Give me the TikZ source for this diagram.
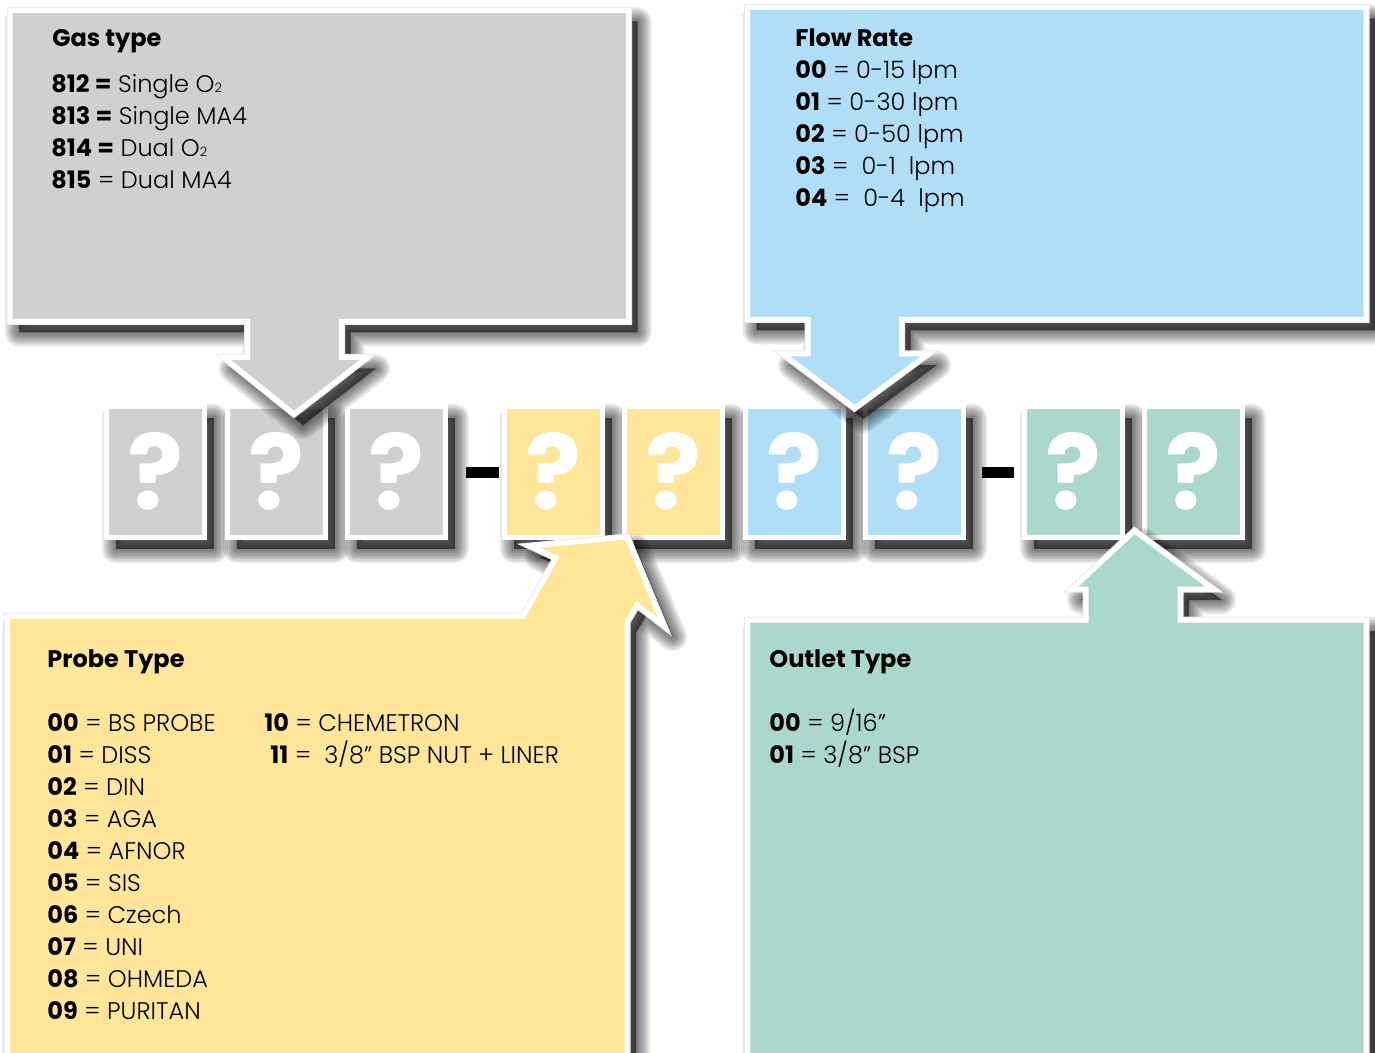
\documentclass[tikz,border=0pt]{standalone}
\usepackage{fontspec}
\IfFontExistsTF{Poppins Light}
  {\setmainfont{Poppins}[UprightFont={* Light}, BoldFont={* Bold}]}
  {\setmainfont{Poppins}}

\definecolor{gasgray}{HTML}{D0D0D0}
\definecolor{probeyellow}{HTML}{FFE699}
\definecolor{flowblue}{HTML}{B0DEF7}
\definecolor{outletgreen}{HTML}{AAD8CD}

\newcommand\subtwo{{\fontsize{6.5pt}{6.5pt}\selectfont 2}}

% soft drop shadow below and right of a path
\newcommand\softshadow[1]{%
  \begin{scope}[shift={(9,11)}]
    \fill[black, opacity=0.55] #1;
    \foreach \w in {2,4,6,8,10,12,14}
      \draw[black, opacity=0.09, line width=\w pt, line join=round] #1;
  \end{scope}}

% callout shape: shadow, faint rim, white border
\newcommand\callout[2]{%
  \softshadow{#2}
  \draw[black!8, line width=3.5pt] #2;
  \filldraw[fill=#1, draw=white, line width=2.5pt] #2;}

\tikzset{
  qbox/.style={draw=white, line width=2.5pt, minimum width=49pt, minimum height=65.5pt,
    inner sep=0pt, text=white, font=\fontsize{52}{52}\selectfont\bfseries},
  title/.style={anchor=base west, inner sep=0pt, font=\fontsize{12}{15}\selectfont\bfseries},
  entry/.style={anchor=base west, inner sep=0pt, font=\fontsize{12}{15}\selectfont}
}

\begin{document}
\begin{tikzpicture}[x=0.5pt, y=-0.5pt]
  \useasboundingbox (0,0) rectangle (1375,1053);
  \fill[white] (0,0) rectangle (1375,1053);
  \clip (0,0) rectangle (1375,1053);

  % code boxes
  \foreach \x/\c in {104/gasgray, 225/gasgray, 345/gasgray, 502/probeyellow, 622/probeyellow,
                     743/flowblue, 863/flowblue, 1022/outletgreen, 1142/outletgreen}
    \softshadow{(\x+2.5,406.5) rectangle ++(98,131)};
  \foreach \x/\c [count=\i] in {104/gasgray, 225/gasgray, 345/gasgray, 502/probeyellow, 622/probeyellow,
                     743/flowblue, 863/flowblue, 1022/outletgreen, 1142/outletgreen}
    \node[qbox, fill=\c] (q\i) at (\x+51.5,472) {\raisebox{1.5pt}{?}};

  \fill (466,467) rectangle (498.5,478);
  \fill (982,467) rectangle (1014,478);

  % callouts
  \callout{gasgray}{(10,10.5) -- (628.5,10.5) -- (628.5,321.5) -- (341.5,321.5) -- (341.5,357.5)
    -- (367,357.5) -- (294,414) -- (224,357.5) -- (247.5,357.5) -- (247.5,321.5) -- (10,321.5) -- cycle}
  \callout{flowblue}{(747.5,7.5) -- (1366,7.5) -- (1366,319.5) -- (901.5,319.5) -- (901.5,354)
    -- (928,354) -- (854.5,408) -- (783,354) -- (808,354) -- (808,319.5) -- (747.5,319.5) -- cycle}
  \callout{probeyellow}{(7.5,1070) -- (7.5,616) -- (523,616) -- (556,558) -- (530,546) -- (627,537)
    -- (664,626) -- (637,605) -- (627,622) -- (627,1070) -- cycle}
  \callout{outletgreen}{(747.5,1070) -- (747.5,620) -- (1086,620) -- (1086,589) -- (1072,589)
    -- (1134.5,531) -- (1213,589) -- (1180,589) -- (1180,620) -- (1366,620) -- (1366,1070) -- cycle}

  % gas type
  \node[title] (gas) at (52,47) {Gas type};
  \foreach \entry [count=\i] in {{\textbf{812 =} Single O\subtwo}, {\textbf{813 =} Single MA4},
                                 {\textbf{814 =} Dual O\subtwo}, {\textbf{815} = Dual MA4}}
    \node[entry] (gas\i) at (51,61+32*\i) {\entry};

  % flow rate
  \node[title] (flow) at (795,47) {Flow Rate};
  \foreach \entry [count=\i] in {{\textbf{00} = 0-15 lpm}, {\textbf{01} = 0-30 lpm}, {\textbf{02} = 0-50 lpm},
                                 {\textbf{03} = \ 0-1 \ lpm}, {\textbf{04} = \ 0-4 \ lpm}}
    \node[entry] (flow\i) at (795,47+32*\i) {\entry};

  % probe type
  \node[title] (probe) at (47,667) {Probe Type};
  \foreach \code/\name [count=\i] in {00/BS PROBE, 01/DISS, 02/DIN, 03/AGA, 04/AFNOR,
                           05/SIS, 06/Czech, 07/UNI, 08/OHMEDA, 09/PURITAN}
    \node[entry] (probe\code) at (47,699+32*\i) {\textbf{\code} = \name};
  \node[entry] (probe10) at (264,731) {\textbf{10} = CHEMETRON};
  \node[entry] (probe11) at (270,763) {\textbf{11} = \ 3/8” BSP NUT + LINER};

  % outlet type
  \node[title] (outlet) at (769,667) {Outlet Type};
  \node[entry] (outlet00) at (769,731) {\textbf{00} = 9/16”};
  \node[entry] (outlet01) at (769,763) {\textbf{01} = 3/8” BSP};
\end{tikzpicture}
\end{document}
